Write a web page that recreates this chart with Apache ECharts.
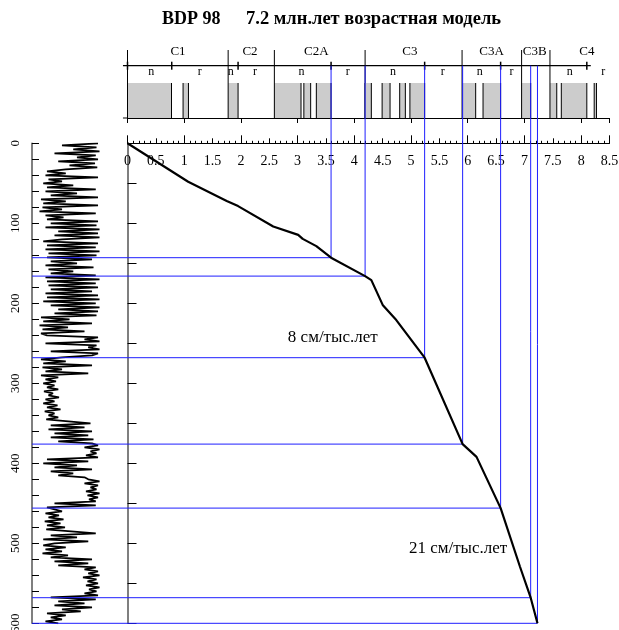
<!DOCTYPE html>
<html><head><meta charset="utf-8">
<script src="https://cdn.jsdelivr.net/npm/echarts/dist/echarts.min.js"></script>
<style>html,body{margin:0;padding:0;background:#fff}#c{width:619px;height:630px}</style>
</head><body><div id="c"></div>
<script>
// ---------- data ----------
const titleLeftText = 'BDP 98';
const titleRightText = '7.2 млн.лет возрастная модель';

// polarity column (ages, Ma)
const normalStart = [0, 0.98, 1.775, 2.59, 3.11, 3.33, 4.185, 4.49, 4.80, 4.98, 5.90, 6.27, 6.95, 7.45, 7.65, 8.23];
const normalEnd   = [0.776, 1.075, 1.95, 3.06, 3.23, 3.59, 4.30, 4.63, 4.90, 5.24, 6.14, 6.58, 7.11, 7.57, 8.10, 8.27];
const chronNames = ['C1', 'C2', 'C2A', 'C3', 'C3A', 'C3B', 'C4'];
const chronStart = [0, 1.775, 2.59, 4.19, 5.90, 6.95, 7.45];
const chronLabelAge = [0.89, 2.16, 3.33, 4.98, 6.42, 7.18, 8.10];
const polarityLabels = ['n', 'r', 'n', 'r', 'n', 'r', 'n', 'r', 'n', 'r', 'n', 'r'];
const polarityLabelAge = [0.42, 1.275, 1.82, 2.25, 3.07, 3.885, 4.68, 5.56, 6.21, 6.77, 7.80, 8.39];
const polarityTickAge = [0, 0.78, 1.95, 3.59, 5.24, 6.58, 8.10];
const polarityLineRange = [-0.08, 8.17];

// age-depth model
const modelAge   = [0, 1.07, 1.75, 1.95, 2.57, 3.01, 3.09, 3.33, 3.59, 4.19, 4.30, 4.50, 4.74, 5.24, 5.91, 6.155, 6.58, 6.92, 7.11, 7.23];
const modelDepth = [0, 48, 72, 78.5, 104, 114.5, 119.5, 128.5, 143, 166, 171, 202, 221, 268, 376, 392, 456, 529, 568, 600];
const tieAge   = [3.59, 4.19, 5.24, 5.91, 6.58, 7.11, 7.23];
const tieDepth = [143, 166, 268, 376, 456, 568, 600];
const rateText  = ['8 см/тыс.лет', '21 см/тыс.лет'];
const rateAge   = [3.62, 5.83];
const rateDepth = [243, 507];

// downcore log (read every 2.5 m)
const logStep = 2.5;
const logValues = [
  88,40,86,55,90,30,85,60,88,35,84,50,87,45,
  20,45,18,88,22,40,
  15,55,20,85,18,60,25,88,
  12,45,15,88,14,40,10,85,18,42,
  20,88,25,86,18,90,
  35,88,30,90,40,
  15,88,20,85,18,90,22,86,
  20,80,25,60,18,82,22,55,25,85,
  18,90,20,85,22,88,25,80,
  18,88,20,90,15,85,
  25,90,35,88,30,86,
  12,50,15,80,10,48,14,70,12,
  20,88,70,90,18,86,75,90,25,88,80,
  40,
  12,45,15,80,14,40,18,75,12,35,
  18,32,15,30,20,35,16,28,22,36,18,30,15,34,20,38,17,30,22,35,19,
  20,78,25,70,22,80,30,75,25,82,35,
  80,88,70,90,78,86,72,88,
  20,75,15,60,30,80,25,55,35,70,
  75,90,70,88,78,86,72,90,74,88,76,85,
  30,85,20,
  20,40,18,36,22,42,17,38,20,44,19,
  18,85,25,60,15,75,30,
  15,45,18,40,14,48,
  25,80,30,75,35,85,
  70,88,75,90,68,86,74,88,72,90,76,86,70,88,
  25,85,35,70,30,80,40,65,
  20,45,25,40,18,35
];

// ---------- layout constants ----------
const SERIF = '"Liberation Serif", "Times New Roman", serif';
const MAIN_LEFT = 127.5, MAIN_WIDTH = 482;
const LOG_LEFT = 32;
const DEPTH_TOP = 143.3, DEPTH_HEIGHT = 480;
const POL_TOP = 40, POL_HEIGHT = 78;     // polarity panel: y value = px - POL_TOP
const POL_LINE_Y = 25.7;                  // horizontal n/r line
const BAR_TOP = 43, BAR_BOTTOM = 78;
const CHRON_LINE_TOP = 10;
const CHRON_LABEL_Y = 12, NR_LABEL_Y = 31.7;
const BLUE = '#1f1fff';

function lineEl(x1, y1, x2, y2, color, w) {
  return {type: 'line', shape: {x1, y1, x2, y2}, style: {stroke: color, lineWidth: w}};
}
function textEl(x, y, text, size) {
  return {type: 'text', x, y, style: {text, fill: '#000', font: size + 'px ' + SERIF, align: 'center', verticalAlign: 'middle'}};
}

const chart = echarts.init(document.getElementById('c'), null, {renderer: 'canvas'});
const option = {
  animation: false,
  backgroundColor: '#fff',
  title: [
    {text: titleLeftText, left: 157, top: 5, textStyle: {fontFamily: SERIF, fontSize: 18, fontWeight: 'bold', color: '#000'}},
    {text: titleRightText, left: 241, top: 5, textStyle: {fontFamily: SERIF, fontSize: 18.5, fontWeight: 'bold', color: '#000'}}
  ],
  grid: [
    {left: MAIN_LEFT, width: MAIN_WIDTH, top: POL_TOP, height: POL_HEIGHT, outerBoundsMode: 'none', containLabel: false},
    {left: MAIN_LEFT, width: MAIN_WIDTH, top: DEPTH_TOP, height: DEPTH_HEIGHT, outerBoundsMode: 'none', containLabel: false},
    {left: LOG_LEFT, width: MAIN_LEFT - LOG_LEFT, top: DEPTH_TOP, height: DEPTH_HEIGHT, outerBoundsMode: 'none', containLabel: false}
  ],
  xAxis: [
    {gridIndex: 0, type: 'value', min: 0, max: 8.5, interval: 1, position: 'bottom',
     axisLine: {show: true, onZero: false, lineStyle: {color: '#000', width: 1}},
     axisTick: {show: true, inside: false, length: 5, lineStyle: {color: '#000'}},
     axisLabel: {show: false}, splitLine: {show: false}},
    {gridIndex: 1, type: 'value', min: 0, max: 8.5, interval: 0.5, position: 'top',
     axisLine: {show: true, onZero: false, lineStyle: {color: '#000', width: 1}},
     axisTick: {show: true, inside: false, length: 5, lineStyle: {color: '#000'}},
     minorTick: {show: true, splitNumber: 5, length: 2.5, lineStyle: {color: '#000'}},
     axisLabel: {show: true, inside: true, margin: 11, fontFamily: SERIF, fontSize: 14, color: '#000',
                 showMinLabel: true, showMaxLabel: true},
     splitLine: {show: false}},
    {gridIndex: 2, type: 'value', min: 0, max: (MAIN_LEFT - LOG_LEFT) / 0.75, show: false},
    {gridIndex: 1, type: 'value', min: 0, max: 8.5, interval: 1, position: 'top',
     axisLine: {show: false, onZero: false}, axisTick: {show: true, inside: false, length: 8, lineStyle: {color: '#000'}},
     axisLabel: {show: false}, splitLine: {show: false}}
  ],
  yAxis: [
    {gridIndex: 0, type: 'value', min: 0, max: POL_HEIGHT, inverse: true, show: false},
    {gridIndex: 1, type: 'value', min: 0, max: 600, interval: 50, inverse: true,
     axisLine: {show: true, onZero: false, lineStyle: {color: '#555', width: 1.5}},
     axisTick: {show: true, inside: true, length: 9, lineStyle: {color: '#000'}},
     axisLabel: {show: false}, splitLine: {show: false}},
    {gridIndex: 2, type: 'value', min: 0, max: 600, interval: 20, inverse: true,
     axisLine: {show: true, onZero: false, lineStyle: {color: '#555', width: 1.5}},
     axisTick: {show: true, inside: true, length: 7, lineStyle: {color: '#000'}},
     axisLabel: {show: true, rotate: 90, margin: 10, fontFamily: SERIF, fontSize: 13, color: '#000',
                 formatter: v => (v % 100 === 0 ? String(v) : '')},
     splitLine: {show: false}}
  ],
  series: [
    // normal polarity bars
    {type: 'custom', xAxisIndex: 0, yAxisIndex: 0, z: 2,
     data: normalStart.map((s, i) => [s, normalEnd[i]]),
     encode: {x: [0, 1]},
     renderItem: (params, api) => {
       const p0 = api.coord([api.value(0), BAR_TOP]);
       const p1 = api.coord([api.value(1), BAR_BOTTOM]);
       return {type: 'group', children: [
         {type: 'rect', shape: {x: p0[0], y: p0[1], width: p1[0] - p0[0], height: p1[1] - p0[1]}, style: {fill: '#cccccc'}},
         lineEl(p0[0], p0[1], p0[0], p1[1], '#000', 1),
         lineEl(p1[0], p0[1], p1[0], p1[1], '#000', 1)
       ]};
     }},
    // baseline extension to the left
    {type: 'custom', xAxisIndex: 0, yAxisIndex: 0, z: 2,
     data: [[polarityLineRange[0], 0]], encode: {x: [0, 1]},
     renderItem: (params, api) => {
       const a = api.coord([api.value(0), POL_HEIGHT]);
       const b = api.coord([api.value(1), POL_HEIGHT]);
       return lineEl(a[0], a[1], b[0], b[1], '#000', 1);
     }},
    // chron boundaries
    {type: 'custom', xAxisIndex: 0, yAxisIndex: 0, z: 2,
     data: chronStart.map(a => [a]), encode: {x: 0},
     renderItem: (params, api) => {
       const a = api.coord([api.value(0), CHRON_LINE_TOP]);
       const b = api.coord([api.value(0), BAR_TOP]);
       return lineEl(a[0], a[1], b[0], b[1], '#000', 1);
     }},
    // horizontal n/r line
    {type: 'custom', xAxisIndex: 0, yAxisIndex: 0, z: 2,
     data: [polarityLineRange], encode: {x: [0, 1]},
     renderItem: (params, api) => {
       const a = api.coord([api.value(0), POL_LINE_Y]);
       const b = api.coord([api.value(1), POL_LINE_Y]);
       return lineEl(a[0], a[1], b[0], b[1], '#000', 1.2);
     }},
    // + ticks
    {type: 'custom', xAxisIndex: 0, yAxisIndex: 0, z: 2,
     data: polarityTickAge.map(a => [a]), encode: {x: 0},
     renderItem: (params, api) => {
       const a = api.coord([api.value(0), POL_LINE_Y - 4]);
       const b = api.coord([api.value(0), POL_LINE_Y + 4]);
       return lineEl(a[0], a[1], b[0], b[1], '#000', 1.5);
     }},
    // chron labels
    {type: 'custom', xAxisIndex: 0, yAxisIndex: 0, z: 3,
     data: chronLabelAge.map((a, i) => [a, i]), encode: {x: 0},
     renderItem: (params, api) => {
       const p = api.coord([api.value(0), CHRON_LABEL_Y]);
       return textEl(p[0], p[1], chronNames[api.value(1)], 13);
     }},
    // n / r labels
    {type: 'custom', xAxisIndex: 0, yAxisIndex: 0, z: 3,
     data: polarityLabelAge.map((a, i) => [a, i]), encode: {x: 0},
     renderItem: (params, api) => {
       const p = api.coord([api.value(0), NR_LABEL_Y]);
       return textEl(p[0], p[1], polarityLabels[api.value(1)], 12);
     }},
    // downcore log
    {type: 'line', xAxisIndex: 2, yAxisIndex: 2, z: 2,
     data: logValues.map((v, i) => [v, i * logStep]),
     showSymbol: false, symbol: 'none', silent: true,
     lineStyle: {color: '#000', width: 1.8}},
    // blue tie lines
    {type: 'custom', xAxisIndex: 1, yAxisIndex: 1, z: 4,
     data: tieAge.map((a, i) => [a, tieDepth[i]]), encode: {x: 0, y: 1},
     renderItem: (params, api) => {
       const p = api.coord([api.value(0), api.value(1)]);
       return {type: 'group', children: [
         lineEl(LOG_LEFT, p[1], p[0], p[1], BLUE, 1),
         lineEl(p[0], POL_TOP + POL_LINE_Y, p[0], p[1], BLUE, 1)
       ]};
     }},
    // age-depth curve
    {type: 'line', xAxisIndex: 1, yAxisIndex: 1, z: 5,
     data: modelAge.map((a, i) => [a, modelDepth[i]]),
     showSymbol: false, symbol: 'none', silent: true,
     lineStyle: {color: '#000', width: 2.2}},
    // rate annotations
    {type: 'custom', xAxisIndex: 1, yAxisIndex: 1, z: 6,
     data: rateAge.map((a, i) => [a, rateDepth[i], i]), encode: {x: 0, y: 1},
     renderItem: (params, api) => {
       const p = api.coord([api.value(0), api.value(1)]);
       return textEl(p[0], p[1], rateText[api.value(2)], 17);
     }}
  ]
};
chart.setOption(option);
</script>
</body></html>
